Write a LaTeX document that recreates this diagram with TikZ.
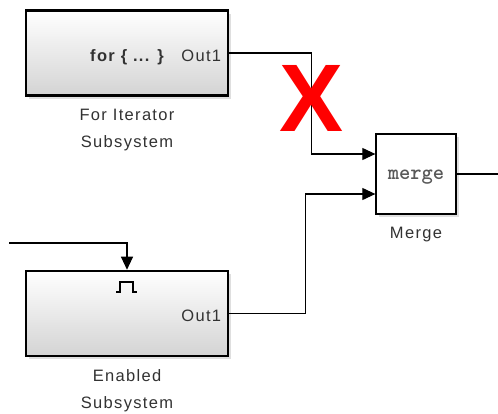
\documentclass[tikz,border=0pt]{standalone}
\usepackage{fontspec}
\setmainfont{Liberation Sans}
\newfontfamily\lblfont[LetterSpace=8]{Liberation Sans}
\usetikzlibrary{arrows.meta,positioning,shadows}
\definecolor{txtgray}{RGB}{50,50,50}
\definecolor{xred}{RGB}{255,0,0}

\begin{document}
\begin{tikzpicture}[x=1pt,y=1pt,
sub/.style={draw=black,line width=2.6pt,top color=white,bottom color=black!17,minimum width=202pt,minimum height=85pt,drop shadow={shadow xshift=3pt,shadow yshift=-3pt,opacity=.25}},
mrg/.style={draw=black,line width=1.3pt,fill=white,minimum size=80pt,drop shadow={shadow xshift=3pt,shadow yshift=-3pt,opacity=.25}},
lbl/.style={font=\fontsize{16.5}{27}\selectfont\lblfont,text=txtgray,align=center,inner sep=0pt},
port/.style={font=\fontsize{16.5}{18}\selectfont\lblfont,text=txtgray,inner sep=0pt},
wire/.style={line width=1.1pt},
sig/.style={-{Triangle[length=13pt,width=12pt]},line width=1.1pt},
pulse/.style={line width=1.8pt}]
\useasboundingbox(0,0)rectangle(498,-413);

\node[sub](forsub)at(127,-53){};
\node[sub](ensub)at(127,-313.5){};
\node[mrg](merge)at(416,-174){};

\node[port,anchor=base,font=\fontsize{16.5}{18}\selectfont\lblfont\bfseries](fortxt)at([yshift=-8pt]forsub.center){for \{ ... \}};
\node[port,anchor=base east](forout)at([xshift=-8pt,yshift=-8pt]forsub.east){Out1};
\node[port,anchor=base east](enout)at([xshift=-8pt,yshift=-8pt]ensub.east){Out1};
\node[anchor=base,inner sep=0pt,text=black!65,font=\fontsize{21.5}{22}\selectfont\ttfamily\bfseries](mrgtxt)at([yshift=-5pt]merge.center){merge};
\draw[pulse]([shift={(-11,-22)}]ensub.north)--++(4,0)--++(0,10)--++(13,0)--++(0,-10)--++(4,0);

\node[lbl,below=12pt of forsub](forlbl){For Iterator\\Subsystem};
\node[lbl,below=12pt of ensub](enlbl){Enabled\\Subsystem};
\node[lbl,below=12.5pt of merge](mrglbl){Merge};

\coordinate(in1)at([yshift=20pt]merge.west);
\coordinate(in2)at([yshift=-20pt]merge.west);
\coordinate(enin)at(9,-243);
\coordinate(mout)at(498,-174);
\draw[sig](forsub.east)--++(82,0)|-(in1);
\draw[sig](ensub.east)--++(76,0)|-(in2);
\draw[sig](enin)-|(ensub.north);
\draw[wire](merge.east)--(mout);

\node[inner sep=0pt,text=xred,font=\fontsize{96}{96}\selectfont\bfseries](cross)at(312,-98){X};
\end{tikzpicture}
\end{document}
